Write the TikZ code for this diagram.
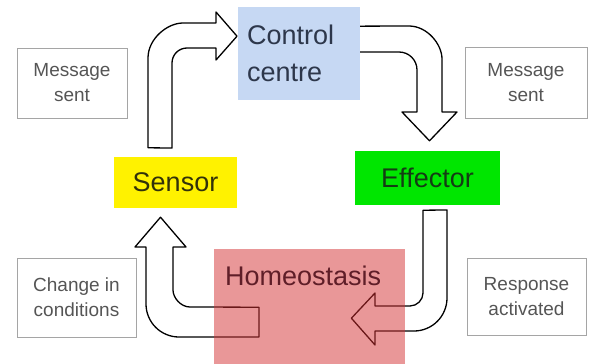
\documentclass[tikz,border=0pt]{standalone}
\usepackage{fontspec}
\setmainfont{Liberation Sans}
\usetikzlibrary{calc,backgrounds}
\definecolor{ccBlue}{RGB}{198,216,243}
\definecolor{ccText}{RGB}{45,55,75}
\definecolor{senText}{RGB}{50,50,10}
\definecolor{effGreen}{RGB}{0,230,0}
\definecolor{effText}{RGB}{20,60,20}
\definecolor{homRed}{RGB}{212,48,50}
\definecolor{homText}{RGB}{95,30,40}
\definecolor{boxGray}{RGB}{165,165,165}
\definecolor{labGray}{RGB}{85,85,85}
\tikzstyle{box}=[rectangle, draw=boxGray, line width=0.8pt, text=labGray, align=center, inner sep=0pt, font=\fontsize{19}{25}\selectfont]
\tikzstyle{stage}=[rectangle, inner sep=0pt, font=\fontsize{27}{37}\selectfont]
\tikzstyle{styBlu}=[stage, fill=ccBlue, text=ccText]
\tikzstyle{styYel}=[stage, fill=yellow, text=senText]
\tikzstyle{styGrn}=[stage, fill=effGreen, text=effText]
\tikzstyle{styRed}=[stage, fill=homRed, fill opacity=0.5, text opacity=1, text=homText]
\tikzstyle{bigarrow}=[draw=black, fill=white, line width=1.3pt, line join=round]

\begin{document}
\begin{tikzpicture}[x=1pt,y=-1pt]
\useasboundingbox (0,0) rectangle (589,364);

% the four stages
\node[styBlu, anchor=north west, minimum width=122pt, minimum height=93pt, text width=104pt, inner xsep=9pt, align=left] (control) at (238,7) {Control\\centre};
\node[styYel, minimum width=123pt, minimum height=51pt] (sensor) at (175.5,182.5) {Sensor};
\node[styGrn, minimum width=145pt, minimum height=54pt] (effector) at (427.5,178) {Effector};
\node[styRed, anchor=north west, text width=169pt, inner xsep=11pt, inner ysep=0pt, text height=36pt, text depth=79pt, align=left] (homeo) at (214,249) {Homeostasis};

% side labels
\node[box, minimum width=110pt, minimum height=70pt] (msgL) at (72,83) {Message\\sent};
\node[box, minimum width=122pt, minimum height=71pt] (msgR) at (526,82.5) {Message\\sent};
\node[box, minimum width=119pt, minimum height=79pt] (change) at (76.5,297.5) {Change in\\conditions};
\node[box, minimum width=119pt, minimum height=77pt] (resp) at (526.5,296.5) {Response\\activated};

\begin{scope}[on background layer]
% sensor -> control centre
\coordinate (s1) at ($(sensor.north)+(-27.5,-9)$);
\coordinate (c1) at ($(control.west)+(-1,-17.5)$);
\draw[bigarrow] (s1) -- (148,58) .. controls (148,38.7) and (167.3,23) .. (183,23) -- (216,23) -- (216,12) -- (c1) -- (216,60) -- (216,48) -- (187,48) .. controls (178.7,48) and (172,54.7) .. (172,63) -- (172,148) -- cycle;
% control centre -> effector
\coordinate (c2) at ($(control.east)+(-10,-27.5)$);
\coordinate (e1) at ($(effector.north)+(2,-10)$);
\draw[bigarrow] (c2) -- (409,26) .. controls (427.2,26) and (442,44.2) .. (442,59) -- (442,112) -- (457,112) -- (e1) -- (402,112) -- (417,112) -- (417,70) .. controls (417,59.9) and (408.9,52) .. (399,52) -- (350,52) -- cycle;
% effector -> homeostasis
\coordinate (e2) at ($(effector.south)+(-4.5,5)$);
\coordinate (h1) at ($(homeo.east)+(-54,11.5)$);
\draw[bigarrow] (e2) -- (447,210) -- (447,298) .. controls (447,316.2) and (432.2,331) .. (414,331) -- (375,331) -- (375,345) -- (h1) -- (375,293) -- (375,306) -- (410,306) .. controls (417.2,306) and (423,299.8) .. (423,293) -- cycle;
% homeostasis -> sensor
\coordinate (h2) at ($(homeo.west)+(45,0.5)$);
\coordinate (s2) at ($(sensor.south)+(-15,9)$);
\draw[bigarrow] (h2) -- (259,337) -- (179,337) .. controls (160.8,337) and (146,322.2) .. (146,304) -- (146,247) -- (135,247) -- (s2) -- (186,247) -- (173,247) -- (173,290) .. controls (173,297.6) and (180.6,307) .. (190,307) -- cycle;
\end{scope}
\end{tikzpicture}
\end{document}
